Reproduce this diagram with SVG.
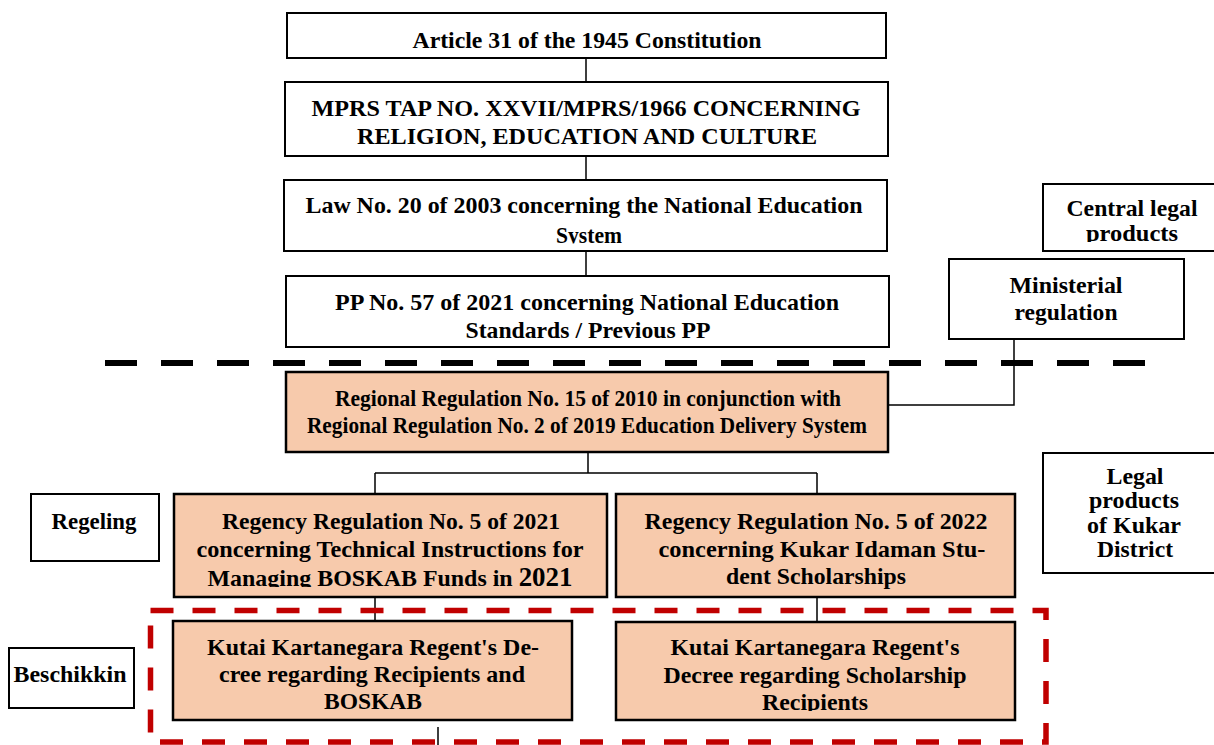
<svg xmlns="http://www.w3.org/2000/svg" width="1214" height="745" viewBox="0 0 1214 745">
<style>
.b{fill:#fff;stroke:#000;stroke-width:2}
.p{fill:#F7CAAC;stroke:#000;stroke-width:2.5}
text{font-family:"Liberation Serif","Times New Roman",serif;font-weight:bold;font-size:24px;fill:#000;text-anchor:middle}
.c{fill:none;stroke:#000;stroke-width:1.5}
</style>
<defs>
<clipPath id="clLaw"><rect x="0" y="0" width="1214" height="243.5"/></clipPath>
<clipPath id="clCen"><rect x="0" y="0" width="1214" height="242"/></clipPath>
<clipPath id="clReg1"><rect x="0" y="0" width="1214" height="587"/></clipPath>
<clipPath id="clDec2"><rect x="0" y="0" width="1214" height="711"/></clipPath>
</defs>
<rect width="1214" height="745" fill="#fff"/>
<g id="connectors">
<path class="c" d="M586 58V82M586 156V180M586 251V276"/>
<path class="c" d="M1014 339V405H888"/>
<path class="c" d="M588 452V473M375 473H817M375 473V494M817 473V494"/>
<path class="c" d="M375 597V621M817 597V622M438 727V745"/>
</g>
<line x1="105" y1="363" x2="1145" y2="363" stroke="#000" stroke-width="6" stroke-dasharray="32 24"/>
<rect x="150.5" y="610.5" width="895.5" height="131.5" fill="none" stroke="#C00000" stroke-width="5.5" stroke-dasharray="23 19"/>
<g id="n1"><rect class="b" x="287" y="13" width="599" height="45"/><text x="587" y="48" textLength="349" lengthAdjust="spacingAndGlyphs">Article 31 of the 1945 Constitution</text></g>
<g id="n2"><rect class="b" x="285" y="82" width="603" height="74"/><text x="586" y="116" font-size="26" textLength="549" lengthAdjust="spacingAndGlyphs">MPRS TAP NO. XXVII/MPRS/1966 CONCERNING</text><text x="587" y="144" font-size="26" textLength="460" lengthAdjust="spacingAndGlyphs">RELIGION, EDUCATION AND CULTURE</text></g>
<g id="n3"><rect class="b" x="284" y="180" width="603" height="71"/><g clip-path="url(#clLaw)"><text x="584" y="213" textLength="557" lengthAdjust="spacingAndGlyphs">Law No. 20 of 2003 concerning the National Education</text><text x="589" y="242.5" textLength="66" lengthAdjust="spacingAndGlyphs">System</text></g></g>
<g id="n4"><rect class="b" x="286" y="276" width="603" height="71"/><text x="587" y="310" textLength="504" lengthAdjust="spacingAndGlyphs">PP No. 57 of 2021 concerning National Education</text><text x="588" y="338" textLength="245" lengthAdjust="spacingAndGlyphs">Standards / Previous PP</text></g>
<g id="central"><rect class="b" x="1043" y="184" width="180" height="67"/><g clip-path="url(#clCen)"><text x="1132" y="216" textLength="131" lengthAdjust="spacingAndGlyphs">Central legal</text><text x="1132" y="241" textLength="92" lengthAdjust="spacingAndGlyphs">products</text></g></g>
<g id="ministerial"><rect class="b" x="949" y="259" width="235" height="80"/><text x="1066" y="293" textLength="113" lengthAdjust="spacingAndGlyphs">Ministerial</text><text x="1066" y="320" textLength="103" lengthAdjust="spacingAndGlyphs">regulation</text></g>
<g id="regional"><rect class="p" x="286" y="372" width="602" height="80"/><text x="588" y="406" font-size="23" textLength="506" lengthAdjust="spacingAndGlyphs">Regional Regulation No. 15 of 2010 in conjunction with</text><text x="587" y="433" font-size="23" textLength="560" lengthAdjust="spacingAndGlyphs">Regional Regulation No. 2 of 2019 Education Delivery System</text></g>
<g id="regeling"><rect class="b" x="31" y="494" width="128" height="67"/><text x="94" y="529" textLength="85" lengthAdjust="spacingAndGlyphs">Regeling</text></g>
<g id="reg1"><rect class="p" x="174" y="494" width="433" height="103"/><g clip-path="url(#clReg1)"><text x="391" y="529" textLength="338" lengthAdjust="spacingAndGlyphs">Regency Regulation No. 5 of 2021</text><text x="390" y="557" textLength="387" lengthAdjust="spacingAndGlyphs">concerning Technical Instructions for</text><text x="390" y="586" textLength="365" lengthAdjust="spacingAndGlyphs">Managing BOSKAB Funds in <tspan font-size="27">2021</tspan></text></g></g>
<g id="reg2"><rect class="p" x="616" y="494" width="399" height="103"/><text x="816" y="529" textLength="343" lengthAdjust="spacingAndGlyphs">Regency Regulation No. 5 of 2022</text><text x="822" y="557" textLength="327" lengthAdjust="spacingAndGlyphs">concerning Kukar Idaman Stu-</text><text x="816" y="584" textLength="180" lengthAdjust="spacingAndGlyphs">dent Scholarships</text></g>
<g id="kukar"><rect class="b" x="1043" y="453" width="180" height="120"/><text x="1135" y="484" textLength="57" lengthAdjust="spacingAndGlyphs">Legal</text><text x="1134" y="508" textLength="90" lengthAdjust="spacingAndGlyphs">products</text><text x="1134" y="533" textLength="94" lengthAdjust="spacingAndGlyphs">of Kukar</text><text x="1135" y="557" textLength="76" lengthAdjust="spacingAndGlyphs">District</text></g>
<g id="beschikkin"><rect class="b" x="9" y="648" width="125" height="60"/><text x="70" y="682" textLength="113" lengthAdjust="spacingAndGlyphs">Beschikkin</text></g>
<g id="dec1"><rect class="p" x="173" y="621" width="399" height="99"/><text x="373" y="655" textLength="332" lengthAdjust="spacingAndGlyphs">Kutai Kartanegara Regent's De-</text><text x="372" y="682" textLength="306" lengthAdjust="spacingAndGlyphs">cree regarding Recipients and</text><text x="373" y="709" textLength="98" lengthAdjust="spacingAndGlyphs">BOSKAB</text></g>
<g id="dec2"><rect class="p" x="616" y="622" width="399" height="98"/><g clip-path="url(#clDec2)"><text x="815" y="655" textLength="289" lengthAdjust="spacingAndGlyphs">Kutai Kartanegara Regent's</text><text x="815" y="683" textLength="303" lengthAdjust="spacingAndGlyphs">Decree regarding Scholarship</text><text x="815" y="710" textLength="106" lengthAdjust="spacingAndGlyphs">Recipients</text></g></g>
</svg>
